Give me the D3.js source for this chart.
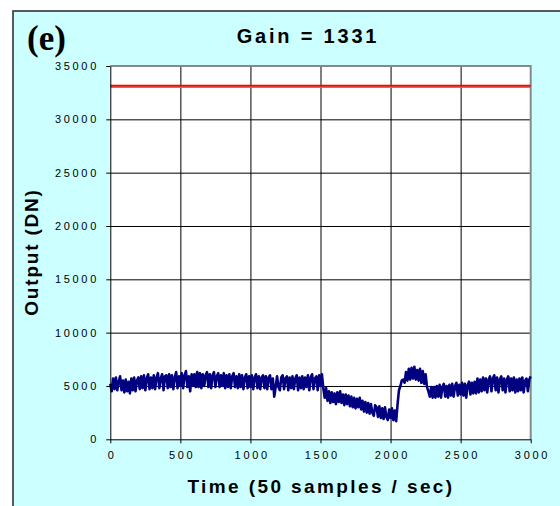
<!DOCTYPE html>
<html>
<head>
<meta charset="utf-8">
<script src="https://cdn.jsdelivr.net/npm/d3@7"></script>
<style>
body { margin: 0; background: #fff; }
text { font-family: Arial, "Liberation Sans", sans-serif; fill: #000; }
</style>
</head>
<body>
<svg id="chart" width="560" height="506"></svg>
<script>
// tick labels
const xTicks = [0, 500, 1000, 1500, 2000, 2500, 3000]
const yTicks = [0, 5000, 10000, 15000, 20000, 25000, 30000, 35000]

// flat reference levels (red on top of green)
const redLevel = 33150
const greenLevel = 33000

// output, one value every 10 samples
const sampleStep = 10
const output = [
  5200, 4500, 5700, 4700, 5800, 4600, 5400, 5900, 4600, 5500,
  4400, 5600, 4500, 5400, 4300, 5700, 4600, 5800, 4500, 5500,
  5800, 4700, 5900, 4800, 6000, 4600, 5700, 6100, 4700, 5800,
  4800, 6000, 4700, 5800, 6200, 4800, 5700, 6100, 4600, 5900,
  6000, 4800, 6100, 4900, 6000, 4700, 5800, 6300, 4800, 5900,
  5000, 6200, 4800, 6000, 6400, 4900, 5900, 4500, 6100, 5000,
  6100, 4900, 6300, 4900, 6200, 4800, 6100, 5000, 6000, 6300,
  4900, 6100, 4800, 6000, 6300, 4900, 5900, 6200, 4900, 6000,
  5000, 6200, 4800, 6000, 4900, 6100, 4800, 5900, 6200, 4900,
  5900, 4800, 6100, 4900, 6000, 4700, 5800, 6100, 4800, 5900,
  4900, 6000, 4700, 5800, 6100, 4800, 5900, 4700, 5800, 6000,
  4800, 5900, 4700, 5800, 6000, 4700, 5700, 4000, 4900, 5900,
  4900, 4600, 5800, 6000, 4700, 5700, 5900, 4600, 5800, 4800,
  5900, 4700, 5700, 6000, 4600, 5800, 4800, 5900, 4700, 5800,
  4900, 6000, 4600, 5800, 6100, 4700, 5700, 5900, 4600, 6000,
  5000, 6100, 4800, 3900, 4800, 3600, 4500, 3400, 4400, 3500,
  4300, 3300, 4400, 3500, 4500, 3400, 4200, 3200, 4200, 3300,
  4100, 3100, 4000, 3000, 3900, 2900, 3800, 3000, 3900, 2800,
  3600, 2600, 3500, 2500, 3400, 2400, 3300, 2500, 2200, 3200,
  3000, 2100, 3100, 2000, 2900, 1900, 3000, 2100, 1800, 2800,
  2000, 2900, 1800, 2700, 1700, 3300, 4600, 5000, 5500, 5600,
  5300, 6300, 5500, 6600, 5600, 6700, 5700, 6800, 5600, 6500,
  5500, 6600, 5300, 6400, 5200, 6100, 4900, 4500, 4000, 4900,
  3900, 4900, 3900, 5000, 4000, 5100, 3900, 4900, 5200, 4000,
  5000, 3900, 5100, 4100, 5200, 4000, 5000, 5300, 4100, 5100,
  4200, 5300, 4100, 5200, 3900, 5100, 5400, 4200, 5300, 4300,
  5400, 4300, 5700, 4400, 5600, 4500, 5800, 4600, 5700, 4400,
  5600, 5900, 4500, 5700, 6000, 4600, 5800, 4400, 5600, 5900,
  4600, 5700, 4400, 5600, 5900, 4500, 5700, 4600, 5800, 4400,
  5600, 4500, 5700, 4600, 5800, 4400, 5500, 5700, 4500, 5600,
  5900
]

const svg = d3.select('#chart')

const plotLeft = 110.3, plotRight = 530.7, plotTop = 66, plotBottom = 439.3

let x = d3.scaleLinear().domain([0, 3000]).range([plotLeft, plotRight])
let y = d3.scaleLinear().domain([0, 35000]).range([plotBottom, plotTop])

// cyan frame
svg.append('rect')
.attr('x', 13).attr('y', 11)
.attr('width', 600).attr('height', 520)
.attr('fill', '#ccffff')
.attr('stroke', '#333')
.attr('stroke-width', 1.6)

// plot area
svg.append('rect')
.attr('x', plotLeft).attr('y', plotTop)
.attr('width', plotRight - plotLeft).attr('height', plotBottom - plotTop)
.attr('fill', '#fff')

// grid
let grid = svg.append('g')
grid.append('g')
.attr('transform', `translate(0,${plotBottom})`)
.call(d3.axisBottom(x).tickValues(xTicks.slice(1, -1)).tickSize(-(plotBottom - plotTop)).tickFormat(''))
grid.append('g')
.attr('transform', `translate(${plotLeft},0)`)
.call(d3.axisLeft(y).tickValues(yTicks.slice(1, -1)).tickSize(-(plotRight - plotLeft)).tickFormat(''))
grid.selectAll('.domain').remove()
grid.selectAll('line').attr('stroke', '#111').attr('stroke-width', 1)

// plot border top / right
svg.append('path')
.attr('d', `M${plotLeft},${plotTop}H${plotRight}V${plotBottom}`)
.attr('fill', 'none')
.attr('stroke', '#888')
.attr('stroke-width', 2)

let line = d3.line().x(d => x(d[0])).y(d => y(d[1]))

svg.append('path')
.datum([[0, greenLevel], [3000, greenLevel]])
.attr('d', line)
.attr('fill', 'none')
.attr('stroke', '#4caf70')
.attr('stroke-width', 1.5)

svg.append('path')
.datum([[0, redLevel], [3000, redLevel]])
.attr('d', line)
.attr('fill', 'none')
.attr('stroke', '#ff0000')
.attr('stroke-width', 2)

svg.append('path')
.datum(output.map((v, i) => [i * sampleStep, v]))
.attr('d', line)
.attr('fill', 'none')
.attr('stroke', '#000080')
.attr('stroke-width', 2.6)
.attr('stroke-linejoin', 'round')

// axes
let xAxis = svg.append('g')
.attr('transform', `translate(0,${plotBottom})`)
.call(d3.axisBottom(x).tickValues(xTicks).tickSize(4).tickPadding(8).tickSizeOuter(0).tickFormat(d3.format('d')))

let yAxis = svg.append('g')
.attr('transform', `translate(${plotLeft},0)`)
.call(d3.axisLeft(y).tickValues(yTicks).tickSize(4).tickPadding(10).tickSizeOuter(0).tickFormat(d3.format('d')))

svg.selectAll('.domain, .tick line').attr('stroke', '#000')
svg.selectAll('.tick text')
.style('font-family', 'Arial, "Liberation Sans", sans-serif')
.style('font-size', '11px')
.style('letter-spacing', '2.7px')
.attr('fill', '#111')
xAxis.selectAll('.tick text').attr('dx', '1.3px')
yAxis.selectAll('.tick text').attr('dx', '2.7px')

// titles
svg.append('text')
.attr('x', 308).attr('y', 42.5)
.attr('text-anchor', 'middle')
.style('font-weight', 'bold')
.style('font-size', '20px')
.style('letter-spacing', '2.8px')
.text('Gain = 1331')

svg.append('text')
.attr('x', 321).attr('y', 493)
.attr('text-anchor', 'middle')
.style('font-weight', 'bold')
.style('font-size', '19px')
.style('letter-spacing', '2.4px')
.text('Time (50 samples / sec)')

svg.append('text')
.attr('transform', 'translate(38,252) rotate(-90)')
.attr('text-anchor', 'middle')
.style('font-weight', 'bold')
.style('font-size', '19px')
.style('letter-spacing', '1.8px')
.text('Output (DN)')

svg.append('text')
.attr('x', 27).attr('y', 50)
.style('font-family', '"Liberation Serif", "Times New Roman", serif')
.style('font-weight', 'bold')
.style('font-size', '35px')
.text('(e)')
</script>
</body>
</html>
